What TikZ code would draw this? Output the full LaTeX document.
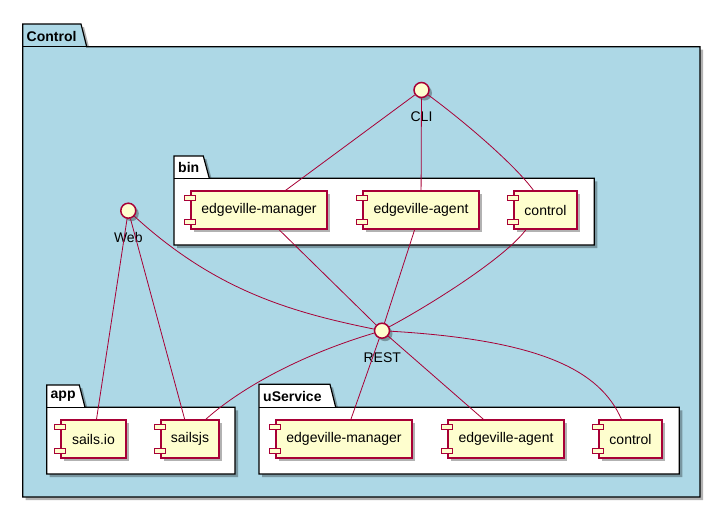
\documentclass[tikz,border=0pt]{standalone}
\usepackage{fontspec}
\setmainfont{Liberation Sans}
\usetikzlibrary{shadows}
\definecolor{pumlred}{HTML}{A80036}
\definecolor{pumlfill}{HTML}{FEFECE}
\definecolor{pumlblue}{HTML}{ADD8E6}
\begin{document}
\begin{tikzpicture}[x=1pt,y=-1pt, font=\fontsize{14}{16}\selectfont,
 shad/.style={drop shadow={shadow xshift=3pt,shadow yshift=-3pt,fill=black,opacity=0.3}},
 comp/.style={draw=pumlred, fill=pumlfill, line width=1.2pt, minimum height=38pt, inner sep=0pt, shad},
 compicon/.style={draw=pumlred, fill=pumlfill, line width=1pt},
 iface/.style={circle, draw=pumlred, fill=pumlfill, line width=1.5pt, minimum size=15pt, inner sep=0pt, shad},
 ilabel/.style={inner sep=0pt},
 pkg/.style={draw=black, line width=1.2pt, shad},
 pkgline/.style={draw=black, line width=1.2pt},
 pkgtitle/.style={font=\fontsize{14}{16}\selectfont\bfseries, anchor=west, inner sep=0pt},
 link/.style={draw=pumlred, line width=0.8pt}
]
\useasboundingbox (0,0) rectangle (724,509);

% packages
\path[pkg, fill=pumlblue] (22.7,24) -- (81,24) -- (86.7,46.7) -- (700,46.7) -- (700,497) -- (22.7,497) -- cycle;
\draw[pkgline] (22.7,46.7) -- (86.7,46.7);
\node[pkgtitle] (tcontrol) at (26.5,36) {Control};

\path[pkg, fill=white] (174,156) -- (203.3,156) -- (209.3,178.3) -- (594.3,178.3) -- (594.3,245) -- (174,245) -- cycle;
\draw[pkgline] (174,178.3) -- (209.3,178.3);
\node[pkgtitle] (tbin) at (178,167.5) {bin};

\path[pkg, fill=white] (46.7,385) -- (79.3,385) -- (85,407.3) -- (235,407.3) -- (235,474) -- (46.7,474) -- cycle;
\draw[pkgline] (46.7,407.3) -- (85,407.3);
\node[pkgtitle] (tapp) at (50.5,396.5) {app};

\path[pkg, fill=white] (259,384.3) -- (330,384.3) -- (335.7,407.3) -- (679.3,407.3) -- (679.3,474) -- (259,474) -- cycle;
\draw[pkgline] (259,407.3) -- (335.7,407.3);
\node[pkgtitle] (tuservice) at (263,396) {uService};

% components
\node[comp, minimum width=136pt] (bm) at (259,210) {edgeville-manager};
\node[comp, minimum width=116pt] (ba) at (421,210) {edgeville-agent};
\node[comp, minimum width=63pt] (bc) at (545.5,210) {control};
\node[comp, minimum width=136pt] (um) at (344,439) {edgeville-manager};
\node[comp, minimum width=116pt] (ua) at (506,439) {edgeville-agent};
\node[comp, minimum width=63pt] (uc) at (630.5,439) {control};
\node[comp, minimum width=65pt] (sio) at (93.5,439) {sails.io};
\node[comp, minimum width=58pt] (sjs) at (190,439) {sailsjs};
\foreach \n in {bm,ba,bc,um,ua,uc,sio,sjs}{
  \draw[compicon] ([shift={(-6,5)}]\n.north west) rectangle ++(11,5);
  \draw[compicon] ([shift={(-6,-10)}]\n.south west) rectangle ++(11,5);
}

% interfaces
\node[iface] (cli) at (421.5,90) {};
\node[ilabel] (clil) at (421.5,117) {CLI};
\node[iface] (web) at (128.3,210.7) {};
\node[ilabel] (webl) at (128.3,237.3) {Web};
\node[iface] (rest) at (382,330.7) {};
\node[ilabel] (restl) at (382.3,357.3) {REST};

% links
\draw[link] (cli) -- (bm);
\draw[link] (cli) -- (ba);
\draw[link] (cli) .. controls (465,122) and (515,165) .. ([xshift=-12pt]bc.north);
\draw[link] (bm) -- (rest);
\draw[link] (ba) -- (rest);
\draw[link] ([xshift=-19.5pt]bc.south) .. controls (505,258) and (430,305) .. (rest);
\draw[link] (web) .. controls (215,290) and (290,312) .. (rest);
\draw[link] (web) -- (sio);
\draw[link] (web) -- (sjs);
\draw[link] (rest) .. controls (294,357) and (236,392) .. ([xshift=15.7pt]sjs.north);
\draw[link] (rest) -- (um);
\draw[link] (rest) -- (ua);
\draw[link] (rest) .. controls (540,340) and (600,370) .. ([xshift=-9pt]uc.north);
\end{tikzpicture}
\end{document}
